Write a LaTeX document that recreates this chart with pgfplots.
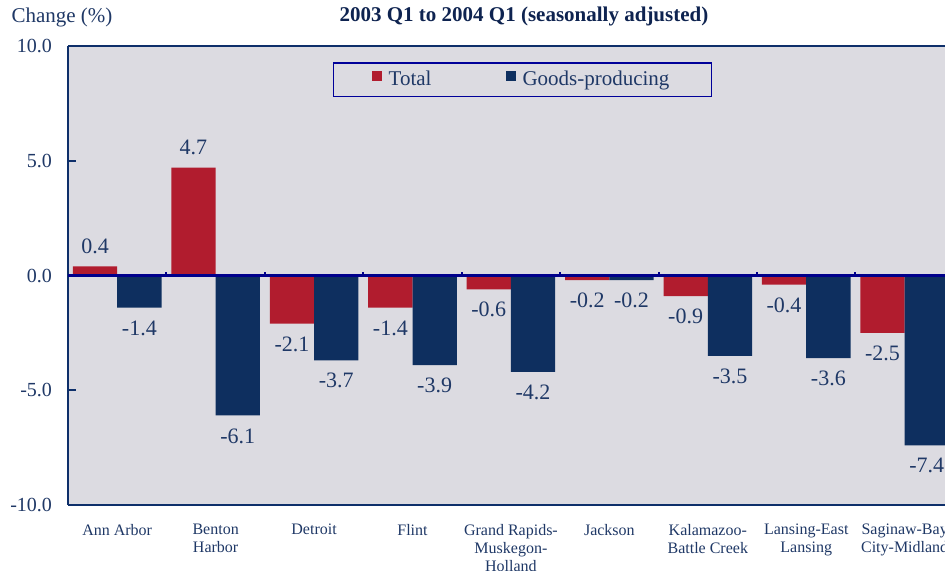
\documentclass[border=0pt]{standalone}
\usepackage{pgfplots}
\pgfplotsset{compat=1.18}
\usepackage{fontspec}
\setmainfont{Liberation Serif}
\definecolor{barred}{HTML}{B11C2E}
\definecolor{barnavy}{HTML}{0E2F5F}
\definecolor{bg}{HTML}{DCDBE1}
\definecolor{zeroblue}{HTML}{00008B}
\definecolor{framenavy}{HTML}{0E2F6A}
\definecolor{txt}{HTML}{1F3866}
\definecolor{titlecol}{HTML}{0E2350}
\definecolor{legendblue}{HTML}{000099}
\begin{document}
\begin{tikzpicture}
\begin{axis}[
  at={(0,0)}, anchor=south west,
  width=438.5pt, height=229.5pt, scale only axis,
  axis background/.style={fill=bg},
  xmin=-0.5, xmax=8.41, ymin=-10, ymax=10,
  axis lines=left, axis line style={-, framenavy, line width=1pt},
  ybar=0pt, bar width=0.45,
  ytick={-10,-5,0,5,10},
  /pgf/number format/assume math mode=true,
  yticklabel style={/pgf/number format/fixed, /pgf/number format/fixed zerofill,
    /pgf/number format/precision=1, font=\fontsize{10}{12}\selectfont, color=txt, xshift=-4.5pt},
  ytick style={framenavy, line width=1pt}, tick align=inside, major tick length=4pt,
  xtick={0,...,8}, xtick style={draw=none},
  xticklabels={{Ann Arbor},{Benton\\Harbor},{Detroit},{Flint},{Grand Rapids-\\Muskegon-\\Holland},{Jackson},{Kalamazoo-\\Battle Creek},{Lansing-East\\Lansing},{Saginaw-Bay\\City-Midland}},
  xticklabel style={align=center, font=\fontsize{8}{9}\selectfont, color=txt, yshift=-6pt},
  nodes near coords={\pgfmathprintnumber[fixed,fixed zerofill,precision=1]{\pgfplotspointmeta}},
  every node near coord/.append style={font=\fontsize{11}{13}\selectfont, color=txt, inner ysep=6.3pt},
  legend style={at={(0.302,0.965)}, anchor=north west, legend columns=2, draw=legendblue,
    line width=0.8pt, fill=none, font=\fontsize{10.5}{12}\selectfont, text=txt,
    inner xsep=19pt, inner ysep=2pt, /tikz/every even column/.append style={column sep=35pt}},
]
\addplot[fill=barred, draw=none, legend image code/.code={\fill[barred] (0pt,-0.5pt) rectangle (5pt,4.5pt); \path (6.5pt,0pt);}]
  coordinates {(0,0.4)(1,4.7)(2,-2.1)(3,-1.4)(4,-0.6)(5,-0.2)(6,-0.9)(7,-0.4)(8,-2.5)};
\addplot[fill=barnavy, draw=none, legend image code/.code={\fill[barnavy] (0pt,-0.5pt) rectangle (5pt,4.5pt); \path (6.5pt,0pt);}]
  coordinates {(0,-1.4)(1,-6.1)(2,-3.7)(3,-3.9)(4,-4.2)(5,-0.2)(6,-3.5)(7,-3.6)(8,-7.4)};
\legend{Total, Goods-producing}
\draw[zeroblue, line width=1.5pt] (axis cs:-0.5,0) -- (axis cs:8.41,0);
\pgfplotsinvokeforeach{0.5,1.5,...,7.5}{\draw[zeroblue, line width=1pt] (axis cs:#1,0) -- (axis cs:#1,0.17);}
\draw[framenavy, line width=1pt] (rel axis cs:0,1) -- (rel axis cs:1,1);
\end{axis}
\node[font=\fontsize{10.5}{12}\selectfont, color=txt] at (-3pt,244pt) {Change (\%)};
\node[font=\bfseries\fontsize{10.5}{12}\selectfont, color=titlecol] at (228pt,244.5pt) {2003 Q1 to 2004 Q1 (seasonally adjusted)};
\pgfresetboundingbox
\path[use as bounding box] (-34pt,-33pt) rectangle (438.5pt,252.5pt);
\end{tikzpicture}
\end{document}
